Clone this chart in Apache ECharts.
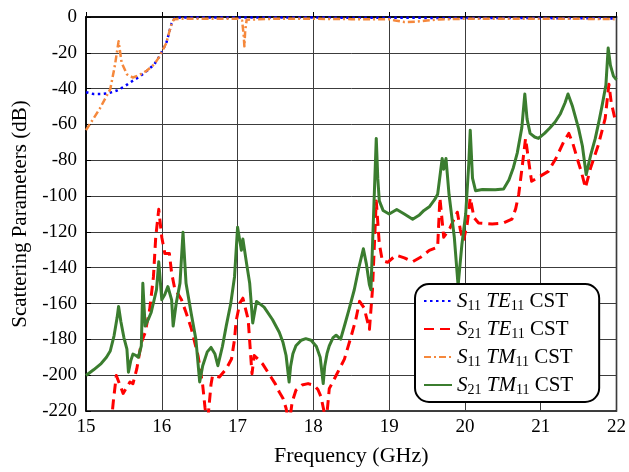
<!DOCTYPE html>
<html>
<head>
<meta charset="utf-8">
<script src="https://cdn.jsdelivr.net/npm/echarts@6/dist/echarts.min.js"></script>
<style>
  html, body { margin: 0; padding: 0; background: #fff; }
  #chart { width: 629px; height: 472px; }
</style>
</head>
<body>
<div id="chart"></div>
<script>
// Frequency sweep, 15–22 GHz; values in dB as [GHz, dB] pairs
const freqTicks = [15, 16, 17, 18, 19, 20, 21, 22];
const dbTicks = [-220, -200, -180, -160, -140, -120, -100, -80, -60, -40, -20, 0];

const s11TE = [
  [15.0, -42], [15.1, -43], [15.2, -43], [15.3, -42.5], [15.4, -41.2], [15.5, -39],
  [15.58, -36.6], [15.7, -33.5], [15.8, -30.2], [15.9, -26.5], [15.97, -21.9],
  [16.06, -14.5], [16.13, -3.5], [16.17, -0.6], [16.25, -0.3], [16.5, -0.3],
  [17.0, -0.3], [17.5, -0.3], [18.0, -0.3], [18.5, -0.4], [19.0, -0.4], [19.5, -0.5],
  [20.0, -0.5], [20.5, -0.5], [21.0, -0.6], [21.5, -0.7], [22.0, -0.8]
];

const s21TE = [
  [15.33, -228], [15.36, -214.9], [15.40, -200.2], [15.45, -205.7], [15.49, -210.2],
  [15.58, -203.8], [15.62, -204.7], [15.67, -196.5], [15.73, -181.8], [15.78, -176.3],
  [15.84, -163.4], [15.89, -145], [15.92, -123], [15.96, -107.4], [16.0, -123],
  [16.04, -132], [16.1, -132], [16.13, -143], [16.17, -151.5], [16.26, -157.9],
  [16.32, -165], [16.39, -174], [16.48, -189.5], [16.54, -205.7], [16.57, -218],
  [16.6, -228], [16.65, -205], [16.67, -200.2], [16.76, -201], [16.85, -196.5],
  [16.92, -191], [16.96, -180], [16.98, -170], [17.03, -159.7], [17.07, -157],
  [17.14, -168.9], [17.19, -199.2], [17.22, -189], [17.28, -191.5], [17.33, -193.7],
  [17.44, -201], [17.5, -205], [17.55, -209.4], [17.6, -213], [17.64, -218.5],
  [17.68, -228], [17.72, -215], [17.77, -208.4], [17.85, -205.5], [17.93, -204.7],
  [18.01, -205.7], [18.06, -208], [18.1, -212], [18.14, -220], [18.17, -226],
  [18.21, -207.5], [18.3, -200.2], [18.41, -191], [18.5, -178.1], [18.56, -168.9],
  [18.61, -158.8], [18.67, -162.5], [18.74, -174.4], [18.78, -152.3], [18.83, -102.7],
  [18.87, -126.6], [18.91, -136], [18.98, -137], [19.09, -133], [19.2, -134.5],
  [19.31, -136.7], [19.42, -134], [19.53, -130.3], [19.64, -128.5], [19.67, -101],
  [19.72, -123], [19.8, -118], [19.9, -109], [19.94, -119], [19.98, -125],
  [20.03, -115.6], [20.07, -101], [20.12, -112], [20.18, -115], [20.36, -115.6],
  [20.5, -115.2], [20.62, -112.9], [20.67, -107], [20.71, -99], [20.76, -82],
  [20.8, -67.8], [20.86, -86.2], [20.88, -91.7], [20.95, -90], [21.1, -86.2],
  [21.2, -79], [21.3, -70], [21.37, -65], [21.42, -70], [21.48, -78.8],
  [21.54, -87], [21.59, -95.4], [21.66, -84], [21.76, -71.5], [21.85, -56.8],
  [21.9, -37.5], [21.93, -47.6], [21.98, -57], [22.0, -58]
];

const s11TM = [
  [15.0, -63.2], [15.18, -51.3], [15.32, -40.3], [15.38, -27.4], [15.43, -13.6],
  [15.47, -25.5], [15.54, -32], [15.62, -33.8], [15.7, -32.5], [15.8, -30],
  [15.9, -26.5], [15.97, -22], [16.06, -14.5], [16.12, -5], [16.16, -1.2],
  [16.25, -1], [16.5, -1], [17.0, -1], [17.06, -2], [17.08, -10], [17.09, -16.4],
  [17.1, -8], [17.12, -1.5], [17.5, -1], [18.0, -1], [18.5, -1.2], [19.0, -1.3],
  [19.08, -2], [19.2, -2.8], [19.35, -2.6], [19.5, -2], [19.65, -1.4],
  [20.0, -1], [20.5, -1], [21.0, -1], [21.5, -1], [22.0, -1.2]
];

const s21TM = [
  [15.0, -200.2], [15.1, -197], [15.2, -193.5], [15.27, -190], [15.32, -186.5],
  [15.37, -178], [15.41, -168], [15.43, -161.6], [15.46, -170], [15.5, -179],
  [15.54, -185.4], [15.56, -198.3], [15.59, -192], [15.62, -188.2], [15.66, -189],
  [15.69, -190], [15.73, -183.6], [15.75, -148.7], [15.78, -172.6], [15.82, -169],
  [15.86, -165], [15.93, -152.3], [15.96, -136.7], [16.0, -157.9], [16.04, -155],
  [16.08, -150.5], [16.13, -158], [16.15, -172.6], [16.19, -160], [16.24, -148.7],
  [16.28, -120.2], [16.32, -148.7], [16.39, -166], [16.45, -180], [16.5, -203.8],
  [16.54, -194.7], [16.6, -187], [16.65, -184.5], [16.7, -188], [16.74, -194.7],
  [16.8, -184], [16.85, -172.6], [16.91, -160], [16.96, -145], [17.0, -117.4],
  [17.05, -130.3], [17.07, -123.9], [17.12, -138], [17.16, -148.7], [17.2, -170.8],
  [17.25, -158.8], [17.35, -162], [17.46, -168.9], [17.55, -176], [17.6, -181.8],
  [17.64, -189], [17.68, -203.8], [17.7, -195], [17.73, -188], [17.77, -183.6],
  [17.84, -180.5], [17.9, -179.6], [17.97, -180.5], [18.04, -184], [18.09, -190],
  [18.13, -204.7], [18.15, -195], [18.18, -188], [18.21, -183.6], [18.26, -179],
  [18.3, -177.7], [18.36, -179.9], [18.42, -171], [18.47, -163.4], [18.54, -152.3],
  [18.6, -140], [18.66, -129.4], [18.7, -138], [18.74, -149.6], [18.76, -152.3],
  [18.83, -67.8], [18.85, -90], [18.87, -102.7], [18.92, -108], [19.0, -110],
  [19.1, -107.5], [19.2, -110], [19.31, -112.9], [19.4, -110.5], [19.46, -108],
  [19.53, -106], [19.6, -102], [19.64, -99], [19.7, -79], [19.72, -85],
  [19.75, -79], [19.79, -99], [19.86, -123], [19.91, -150], [19.96, -127],
  [20.01, -110], [20.05, -82.6], [20.07, -63.2], [20.1, -90], [20.14, -97],
  [20.23, -96.3], [20.4, -96.5], [20.51, -96], [20.58, -91], [20.64, -84],
  [20.69, -76], [20.75, -62], [20.79, -43], [20.82, -57], [20.86, -65],
  [20.92, -67], [20.97, -67.8], [21.05, -65], [21.12, -62], [21.19, -58.6],
  [21.26, -54], [21.32, -48], [21.36, -43], [21.42, -50], [21.5, -62.3],
  [21.55, -72], [21.6, -88], [21.66, -77], [21.72, -67.8], [21.77, -58],
  [21.81, -49.5], [21.86, -38], [21.89, -17.3], [21.92, -27], [21.96, -33],
  [22.0, -35]
];

const seriesNames = ['S11 TE11 CST', 'S21 TE11 CST', 'S11 TM11 CST', 'S21 TM11 CST'];

const serif = 'Liberation Serif';

// "S11" -> italic S with subscript 11
function legendLabel(name) {
  return name.split(' ').map(function (tok) {
    const m = tok.match(/^([A-Za-z]+)(\d+)$/);
    if (m) return '{i|' + m[1] + '}{s|' + m[2] + '}';
    return '{n|' + tok + '}';
  }).join('{n| }');
}

const chart = echarts.init(document.getElementById('chart'), null, { renderer: 'canvas' });

function lineSeries(name, data, color, type, width) {
  return {
    name: name,
    type: 'line',
    data: data,
    symbol: 'none',
    smooth: false,
    clip: true,
    lineStyle: { color: color, width: width, type: type, cap: 'butt', join: 'round' },
    itemStyle: { color: color },
    emphasis: { disabled: true },
    animation: false
  };
}

chart.setOption({
  animation: false,
  backgroundColor: '#fff',
  grid: {
    left: 86, top: 17, right: 11, bottom: 56,
    show: true, borderColor: '#000', borderWidth: 1.5, backgroundColor: 'transparent'
  },
  xAxis: {
    type: 'value',
    min: freqTicks[0], max: freqTicks[freqTicks.length - 1], interval: 1,
    name: 'Frequency (GHz)', nameLocation: 'middle', nameGap: 34,
    nameTextStyle: { fontFamily: serif, fontSize: 22, color: '#000' },
    axisLine: { lineStyle: { color: '#000', width: 1.5 } },
    axisTick: { inside: true, length: 5, lineStyle: { color: '#000' } },
    axisLabel: { fontFamily: serif, fontSize: 19, color: '#000', margin: 7 },
    splitLine: { show: true, lineStyle: { color: '#3c3c3c', width: 1 } }
  },
  yAxis: {
    type: 'value',
    min: dbTicks[0], max: dbTicks[dbTicks.length - 1], interval: 20,
    name: 'Scattering Parameters (dB)', nameLocation: 'middle', nameGap: 52,
    nameTextStyle: { fontFamily: serif, fontSize: 21, color: '#000' },
    axisLine: { show: true, lineStyle: { color: '#000', width: 1.5 } },
    axisTick: { show: true, inside: true, length: 5, lineStyle: { color: '#000' } },
    axisLabel: { fontFamily: serif, fontSize: 19, color: '#000', margin: 9 },
    splitLine: { show: true, lineStyle: { color: '#3c3c3c', width: 1 } }
  },
  legend: {
    data: seriesNames,
    orient: 'vertical',
    left: 415, top: 284,
    itemWidth: 28, itemHeight: 14, itemGap: 4,
    padding: [5, 26, 5, 8],
    borderColor: '#000', borderWidth: 2, borderRadius: 14,
    backgroundColor: '#fff',
    itemStyle: { opacity: 0 },
    selectedMode: false,
    formatter: legendLabel,
    textStyle: {
      fontFamily: serif, fontSize: 21, color: '#000', lineHeight: 24,
      rich: {
        i: { fontFamily: serif, fontStyle: 'italic', fontSize: 21, lineHeight: 24, color: '#000' },
        s: { fontFamily: serif, fontSize: 14, lineHeight: 13, verticalAlign: 'bottom', color: '#000' },
        n: { fontFamily: serif, fontSize: 21, lineHeight: 24, color: '#000' }
      }
    }
  },
  series: [
    lineSeries(seriesNames[0], s11TE, '#0000ff', [2.5, 3.5], 2.5),
    lineSeries(seriesNames[1], s21TE, '#ff0000', [10, 6], 3),
    lineSeries(seriesNames[2], s11TM, '#f5883c', [7, 3, 2, 3], 2.5),
    lineSeries(seriesNames[3], s21TM, '#3b7d2f', 'solid', 3)
  ]
});
</script>
</body>
</html>
